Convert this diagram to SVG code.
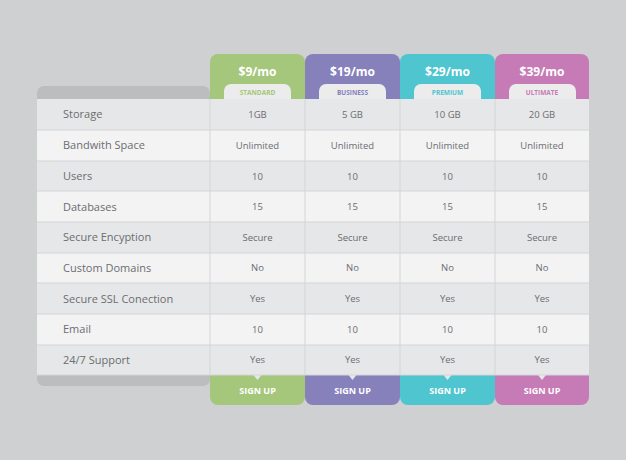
<svg xmlns="http://www.w3.org/2000/svg" width="626" height="460" viewBox="0 0 626 460">
<style>
.lbl{font-family:"Open Sans","Liberation Sans",sans-serif;font-size:11px;fill:#6b6d70}
.val{font-family:"Open Sans","Liberation Sans",sans-serif;font-size:9.5px;fill:#6b6d70;text-anchor:middle}
.price{font-family:"Open Sans","Liberation Sans",sans-serif;font-size:12px;font-weight:bold;fill:#fff;text-anchor:middle}
.tab{font-family:"Open Sans","Liberation Sans",sans-serif;font-size:6.5px;font-weight:bold;text-anchor:middle}
.sign{font-family:"Open Sans","Liberation Sans",sans-serif;font-size:9px;font-weight:bold;fill:#fff;text-anchor:middle}
.odd{fill:#e6e7e8}.even{fill:#f3f3f4}
.grid{stroke:#d4d5d7;stroke-width:1}
</style>
<rect width="626" height="460" fill="#cfd0d2"/>
<rect x="37" y="86" width="173" height="300" rx="7" fill="#bcbdbf"/>
<g id="headers">
<path d="M210,99 V62 a8,8 0 0 1 8,-8 H297 a8,8 0 0 1 8,8 V99 Z" fill="#a5c77b"/>
<path d="M305,99 V62 a8,8 0 0 1 8,-8 H392 a8,8 0 0 1 8,8 V99 Z" fill="#8680bb"/>
<path d="M400,99 V62 a8,8 0 0 1 8,-8 H487 a8,8 0 0 1 8,8 V99 Z" fill="#4fc5d0"/>
<path d="M495,99 V62 a8,8 0 0 1 8,-8 H581 a8,8 0 0 1 8,8 V99 Z" fill="#c77bb6"/>
<g fill="#ececed">
<path d="M224,99 V91 a7,7 0 0 1 7,-7 H284 a7,7 0 0 1 7,7 V99 Z"/>
<path d="M319,99 V91 a7,7 0 0 1 7,-7 H379 a7,7 0 0 1 7,7 V99 Z"/>
<path d="M414,99 V91 a7,7 0 0 1 7,-7 H474 a7,7 0 0 1 7,7 V99 Z"/>
<path d="M509,99 V91 a7,7 0 0 1 7,-7 H569 a7,7 0 0 1 7,7 V99 Z"/>
</g>
<text class="price" x="257.5" y="76">$9/mo</text>
<text class="price" x="352.5" y="76">$19/mo</text>
<text class="price" x="447.5" y="76">$29/mo</text>
<text class="price" x="542" y="76">$39/mo</text>
<text class="tab" x="257.5" y="94.5" fill="#a5c77b">STANDARD</text>
<text class="tab" x="352.5" y="94.5" fill="#8680bb">BUSINESS</text>
<text class="tab" x="447.5" y="94.5" fill="#4fc5d0">PREMIUM</text>
<text class="tab" x="542" y="94.5" fill="#c77bb6">ULTIMATE</text>
</g>
<g id="footers">
<path d="M210,375 V397 a8,8 0 0 0 8,8 H297 a8,8 0 0 0 8,-8 V375 Z" fill="#a5c77b"/>
<path d="M305,375 V397 a8,8 0 0 0 8,8 H392 a8,8 0 0 0 8,-8 V375 Z" fill="#8680bb"/>
<path d="M400,375 V397 a8,8 0 0 0 8,8 H487 a8,8 0 0 0 8,-8 V375 Z" fill="#4fc5d0"/>
<path d="M495,375 V397 a8,8 0 0 0 8,8 H581 a8,8 0 0 0 8,-8 V375 Z" fill="#c77bb6"/>
<text class="sign" x="257.5" y="394">SIGN UP</text>
<text class="sign" x="352.5" y="394">SIGN UP</text>
<text class="sign" x="447.5" y="394">SIGN UP</text>
<text class="sign" x="542" y="394">SIGN UP</text>
</g>
<g id="rows">
<rect class="odd" x="37" y="99" width="552" height="31"/>
<rect class="even" x="37" y="130" width="552" height="31"/>
<rect class="odd" x="37" y="161" width="552" height="30"/>
<rect class="even" x="37" y="191" width="552" height="31"/>
<rect class="odd" x="37" y="222" width="552" height="31"/>
<rect class="even" x="37" y="253" width="552" height="30"/>
<rect class="odd" x="37" y="283" width="552" height="31"/>
<rect class="even" x="37" y="314" width="552" height="31"/>
<rect class="odd" x="37" y="345" width="552" height="30"/>
<g fill="#e6e7e8">
<path d="M253.5,375 h8 l-4,5 z"/><path d="M348.5,375 h8 l-4,5 z"/><path d="M443.5,375 h8 l-4,5 z"/><path d="M538,375 h8 l-4,5 z"/>
</g>
<g class="grid">
<line x1="37" y1="130" x2="589" y2="130"/><line x1="37" y1="161" x2="589" y2="161"/><line x1="37" y1="191" x2="589" y2="191"/><line x1="37" y1="222" x2="589" y2="222"/><line x1="37" y1="253" x2="589" y2="253"/><line x1="37" y1="283" x2="589" y2="283"/><line x1="37" y1="314" x2="589" y2="314"/><line x1="37" y1="345" x2="589" y2="345"/><line x1="37" y1="375" x2="589" y2="375"/>
<line x1="210" y1="99" x2="210" y2="375"/><line x1="305" y1="99" x2="305" y2="375"/><line x1="400" y1="99" x2="400" y2="375"/><line x1="495" y1="99" x2="495" y2="375"/>
</g>
</g>
<g id="labels">
<text class="lbl" x="63" y="118">Storage</text>
<text class="lbl" x="63" y="149">Bandwith Space</text>
<text class="lbl" x="63" y="180">Users</text>
<text class="lbl" x="63" y="211">Databases</text>
<text class="lbl" x="63" y="241">Secure Encyption</text>
<text class="lbl" x="63" y="272">Custom Domains</text>
<text class="lbl" x="63" y="303">Secure SSL Conection</text>
<text class="lbl" x="63" y="333">Email</text>
<text class="lbl" x="63" y="364">24/7 Support</text>
</g>
<g id="values">
<g transform="translate(257.5,0)"><text class="val" y="118">1GB</text><text class="val" y="149">Unlimited</text><text class="val" y="180">10</text><text class="val" y="210">15</text><text class="val" y="241">Secure</text><text class="val" y="271">No</text><text class="val" y="302">Yes</text><text class="val" y="333">10</text><text class="val" y="363">Yes</text></g>
<g transform="translate(352.5,0)"><text class="val" y="118">5 GB</text><text class="val" y="149">Unlimited</text><text class="val" y="180">10</text><text class="val" y="210">15</text><text class="val" y="241">Secure</text><text class="val" y="271">No</text><text class="val" y="302">Yes</text><text class="val" y="333">10</text><text class="val" y="363">Yes</text></g>
<g transform="translate(447.5,0)"><text class="val" y="118">10 GB</text><text class="val" y="149">Unlimited</text><text class="val" y="180">10</text><text class="val" y="210">15</text><text class="val" y="241">Secure</text><text class="val" y="271">No</text><text class="val" y="302">Yes</text><text class="val" y="333">10</text><text class="val" y="363">Yes</text></g>
<g transform="translate(542,0)"><text class="val" y="118">20 GB</text><text class="val" y="149">Unlimited</text><text class="val" y="180">10</text><text class="val" y="210">15</text><text class="val" y="241">Secure</text><text class="val" y="271">No</text><text class="val" y="302">Yes</text><text class="val" y="333">10</text><text class="val" y="363">Yes</text></g>
</g>
</svg>
